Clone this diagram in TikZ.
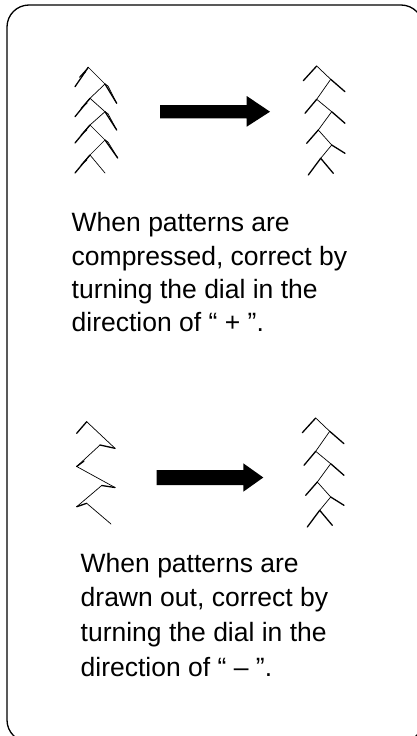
\documentclass[tikz,border=0pt]{standalone}
\usepackage{fontspec}
\setmainfont{Liberation Sans}
\begin{document}
\begin{tikzpicture}[x=1pt,y=-1pt,
  frame/.style={draw=black,line width=1.3pt,rounded corners=22pt},
  txt/.style={anchor=base west,inner sep=0pt,font=\fontsize{26.5}{33}\selectfont},
  thick stitch/.style={line width=1.3pt,line cap=round,line join=round},
  thin stitch/.style={line width=0.7pt,line cap=round,line join=round},
  bigarrow/.style={fill=black,draw=none}]
\useasboundingbox (0,0) rectangle (417,736);
\clip (0,0) rectangle (417,736);
% frame
\draw[frame] (7,5) rectangle (423,742);

% ---------- top-left: compressed pattern ----------
\begin{scope}
  \foreach \ax/\ay/\lx/\ly/\bx/\by/\rx/\ry/\nx/\ny in
    {88.3/67.3/75/86.7/105/84/116.7/103.3/90/98.3,
     90/98.3/75/116.7/105/111.7/116.7/130/90/125,
     90/125/75/143/105/140/117.7/158/90/155}{
    \draw[thick stitch] (\ax,\ay) -- (\lx,\ly);
    \draw[thin stitch] (\ax,\ay) -- (\ax-9,\ay+10) -- (\ax-3,\ay+5);
    \draw[thin stitch] (\ax,\ay) -- (\bx,\by);
    \draw[thick stitch] (\bx,\by) -- (\rx,\ry);
    \draw[thin stitch] (\bx,\by) -- (\bx+3,\by+2) -- (\rx,\ry);
    \draw[thin stitch] (\bx,\by) -- (\nx,\ny);
  }
  \draw[thick stitch] (90,155) -- (75,173);
  \draw[thin stitch] (90,155) -- (81,165) -- (87,160);
  \draw[thin stitch] (90,155) -- (105,173);
\end{scope}

% top arrow
\fill[bigarrow] (160,105) -- (246.7,105) -- (246.7,96) -- (270,111.7)
  -- (246.7,126.7) -- (246.7,118.3) -- (160,118.3) -- cycle;

% ---------- right patterns (normal) ----------
\foreach \dx/\dy in {0/0,-1/352}{
  \begin{scope}[shift={(\dx,\dy)}]
    \foreach \ax/\ay/\lx/\ly/\bx/\by/\rx/\ry/\nx/\ny in
      {316.7/66/303.3/80.7/330.7/79.3/345/91.7/316.7/99.3,
       316.7/99.3/305/113.3/331.7/111.7/345/123.3/318.3/130,
       318.3/130/306.7/143.3/331.7/145/345/153.3/320.7/158.3}{
      \draw[thick stitch] (\ax,\ay) -- (\lx,\ly);
      \draw[thin stitch] (\ax,\ay) -- (\bx,\by);
      \draw[thick stitch] (\bx,\by) -- (\rx,\ry);
      \draw[thin stitch] (\bx,\by) -- (\nx,\ny);
    }
    \draw[thick stitch] (320.7,158.3) -- (308.3,175);
    \draw[thick stitch] (320.7,158.3) -- (333.3,173.3);
  \end{scope}
}

% ---------- bottom-left: drawn-out pattern ----------
\draw[thin stitch] (86.7,421.7) -- (115,448.3);
\draw[thick stitch] (76.7,433.3) -- (86.7,421.7);
\draw[thick stitch] (100,445) -- (115,448.3);
\draw[thin stitch] (100,445) -- (76.7,466.5);
\draw[thick stitch] (76.7,466.5) -- (84,461);
\draw[thin stitch] (76.7,466.5) -- (115,487.5);
\draw[thick stitch] (101.7,485.5) -- (115,487.5);
\draw[thin stitch] (101.7,485.5) -- (76.7,506.7);
\draw[thick stitch] (76.7,506.7) -- (86.7,503.3);
\draw[thin stitch] (86.7,503.3) -- (111,524);

% bottom arrow
\fill[bigarrow] (156.7,470) -- (243.3,470) -- (243.3,463.3) -- (263.3,477.5)
  -- (243.3,491.7) -- (243.3,485) -- (156.7,485) -- cycle;

% ---------- texts ----------
\node[txt] (t1a) at (71.5,231.7) {When patterns are};
\node[txt] (t1b) at (71.5,265) {compressed, correct by};
\node[txt] (t1c) at (71.5,298.3) {turning the dial in the};
\node[txt] (t1d) at (71.5,331) {direction of “ + ”.};

\node[txt] (t2a) at (80.5,572) {When patterns are};
\node[txt] (t2b) at (80.5,606.7) {drawn out, correct by};
\node[txt] (t2c) at (80.5,641.5) {turning the dial in the};
\node[txt] (t2d) at (80.5,676) {direction of “ – ”.};
\end{tikzpicture}
\end{document}
